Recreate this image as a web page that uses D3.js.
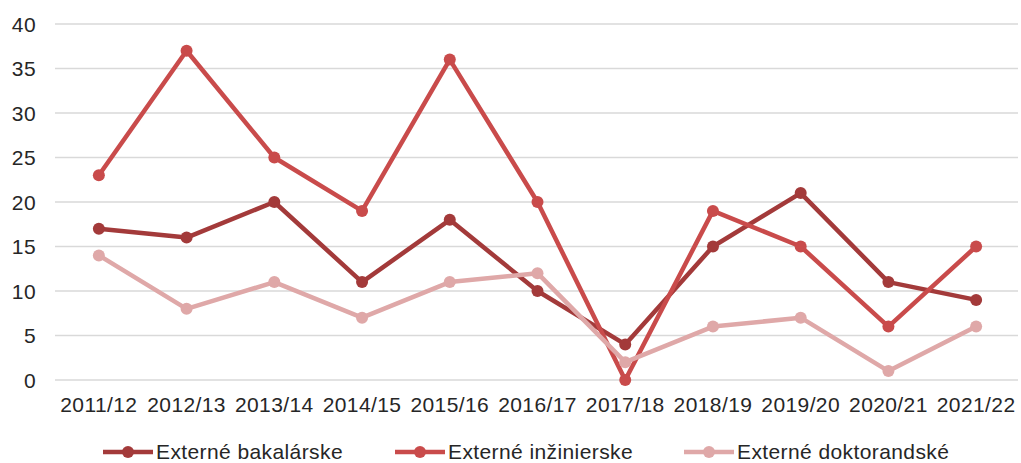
<!DOCTYPE html>
<html>
<head>
<meta charset="utf-8">
<script src="https://cdn.jsdelivr.net/npm/d3@7"></script>
<style>
  body { margin: 0; background: #fff; }
  svg text { font-family: "Liberation Sans", Arial, sans-serif; fill: #262626; letter-spacing: 0.4px; }
</style>
</head>
<body>
<svg width="1021" height="463"></svg>
<script>
var years = ["2011/12","2012/13","2013/14","2014/15","2015/16","2016/17","2017/18","2018/19","2019/20","2020/21","2021/22"];
var bakalarske   = [17,16,20,11,18,10,4,15,21,11,9];
var inzinierske  = [23,37,25,19,36,20,0,19,15,6,15];
var doktorandske = [14,8,11,7,11,12,2,6,7,1,6];
var yTicks = [0,5,10,15,20,25,30,35,40];

var series = [
  {name: "Externé bakalárske", values: bakalarske, color: "#a33a3a"},
  {name: "Externé inžinierske", values: inzinierske, color: "#c94b4b"},
  {name: "Externé doktorandské", values: doktorandske, color: "#dfa8a8"}
];

var svg = d3.select("svg");

var x = d3.scaleBand().domain(years).range([55, 1020]);
var y = d3.scaleLinear().domain([0, 40]).range([380, 24]);

// grid
svg.append("g").selectAll("line")
  .data(yTicks).enter().append("line")
    .attr("x1", 55).attr("x2", 1018)
    .attr("y1", function(d){ return y(d); })
    .attr("y2", function(d){ return y(d); })
    .attr("stroke", "#d9d9d9").attr("stroke-width", 1.5);

// y labels
var yAxis = svg.append("g").attr("transform", "translate(36,0)")
  .call(d3.axisLeft(y).tickValues(yTicks).tickSize(0).tickPadding(0));
yAxis.select(".domain").remove();
yAxis.selectAll("text").style("font-size", "21px").attr("dy", "0.35em");

// x labels
var xAxis = svg.append("g").attr("transform", "translate(0,380)")
  .call(d3.axisBottom(x).tickSize(0).tickPadding(17));
xAxis.select(".domain").remove();
xAxis.selectAll("text").style("font-size", "21px");

var line = d3.line()
  .x(function(d, i){ return x(years[i]) + x.bandwidth() / 2; })
  .y(function(d){ return y(d); });

series.forEach(function(s){
  var g = svg.append("g");
  g.append("path")
    .attr("d", line(s.values))
    .attr("fill", "none")
    .attr("stroke", s.color)
    .attr("stroke-width", 4.5)
    .attr("stroke-linejoin", "round");
  g.selectAll("circle").data(s.values).enter().append("circle")
    .attr("cx", function(d, i){ return x(years[i]) + x.bandwidth() / 2; })
    .attr("cy", function(d){ return y(d); })
    .attr("r", 6)
    .attr("fill", s.color);
});

// legend
var legendX = [103, 395, 684];
var legend = svg.append("g").selectAll("g")
  .data(series).enter().append("g")
  .attr("transform", function(d, i){ return "translate(" + legendX[i] + ",452)"; });
legend.append("line")
  .attr("x1", 0).attr("x2", 50)
  .attr("stroke", function(d){ return d.color; })
  .attr("stroke-width", 4.5);
legend.append("circle").attr("cx", 25).attr("r", 6)
  .attr("fill", function(d){ return d.color; });
legend.append("text")
  .attr("x", 53).attr("dy", "0.35em")
  .style("font-size", "21px")
  .text(function(d){ return d.name; });
</script>
</body>
</html>
